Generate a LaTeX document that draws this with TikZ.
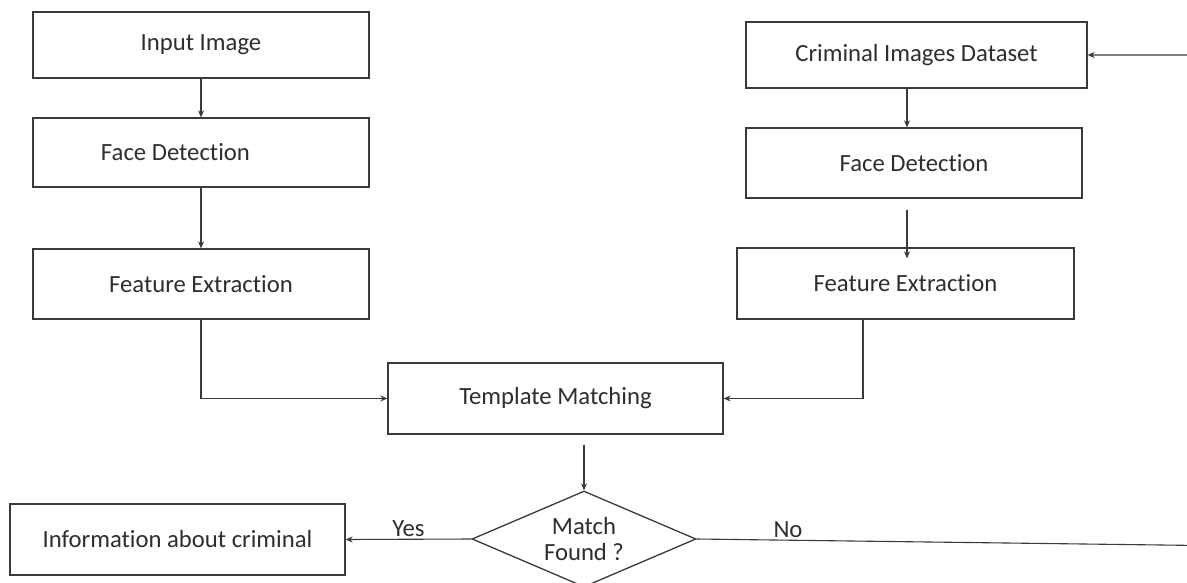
\documentclass[tikz,border=0pt]{standalone}
\usepackage{fontspec}
\setmainfont{Carlito}[Ligatures=NoCommon]
\usetikzlibrary{arrows.meta,shapes.geometric}
\definecolor{ln}{HTML}{3A3A3A}
\definecolor{tx}{HTML}{2E2E2E}
\tikzset{
  box/.style={draw=ln, line width=1.3pt, rectangle, inner sep=0pt, text=tx, font=\fontsize{24.7}{27}\selectfont},
  dmd/.style={draw=ln, line width=1.3pt, diamond, aspect=2.33, inner sep=0pt, minimum width=224pt, minimum height=96pt, text=tx, align=center, font=\fontsize{24.7}{26}\selectfont},
  arr/.style={draw=ln, line width=1.1pt, -{Stealth[length=7pt,width=6pt]}},
  lbl/.style={text=tx, font=\fontsize{24.7}{27}\selectfont, inner sep=0pt}
}
\begin{document}
\begin{tikzpicture}[x=1pt,y=-1pt]
\useasboundingbox (0,0) rectangle (1187,582);
\fill[white] (0,0) rectangle (1187,582);
% left column
\node[box, minimum width=336pt, minimum height=66pt] (in) at (201,45) {Input Image};
\node[box, minimum width=336pt, minimum height=69pt] (fd1) at (201,152.5) {\makebox[336pt][l]{\hspace{68pt}Face Detection}};
\node[box, minimum width=336pt, minimum height=70pt] (fe1) at (201,284) {Feature Extraction};
% right column
\node[box, minimum width=341pt, minimum height=66pt] (crim) at (916.5,55) {Criminal Images Dataset};
\node[box, minimum width=336pt, minimum height=70pt] (fd2) at (914,163) {Face Detection};
\node[box, minimum width=337pt, minimum height=71pt] (fe2) at (905.5,283.5) {Feature Extraction};
% middle
\node[box, minimum width=335pt, minimum height=71pt] (tm) at (555.5,398.5) {Template Matching};
\node[dmd] (dm) at (584,539) {Match\\Found ?};
\node[box, minimum width=335pt, minimum height=71pt] (info) at (177.5,539.5) {Information about criminal};
% connectors
\draw[arr] (in.south) -- (fd1.north);
\draw[arr] (fd1.south) -- (fe1.north);
\draw[arr] (fe1.south) |- (tm.west);
\draw[arr] ([xshift=-42.5pt]fe2.south) |- (tm.east);
\draw[arr] ([xshift=-9.5pt]crim.south) -- ([xshift=-9.5pt]crim.south |- fd2.north);
\draw[arr] ([xshift=-7pt,yshift=-11pt]fd2.south) -- ([xshift=-7pt,yshift=-11pt]fd2.south |- fe2.north);
\draw[arr] ([xshift=28.5pt,yshift=-10pt]tm.south) -- (dm.north);
\draw[arr] (dm.west) -- node[lbl, above=2pt, pos=0.5] (yes) {Yes} (info.east);
\coordinate (c1) at (1200,545.5);
\coordinate (c2) at (1200,55);
\draw[arr] (dm.east) -- (c1) -- (c2) -- (crim.east);
\node[lbl] (no) at (788,530) {No};
\end{tikzpicture}
\end{document}
